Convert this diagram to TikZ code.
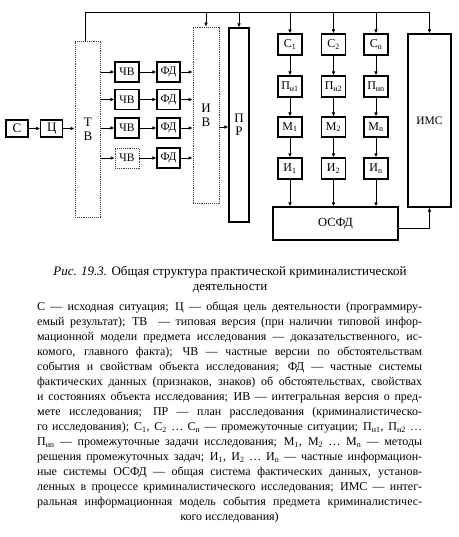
\documentclass[tikz,border=0pt]{standalone}
\usepackage{fontspec}
\setmainfont{Liberation Serif}
\usetikzlibrary{arrows.meta}
\begin{document}
\begin{tikzpicture}[x=1pt,y=-1pt,
  box/.style={draw, line width=1.1pt, inner sep=0pt, align=center, font=\fontsize{12}{12}\selectfont},
  dbox/.style={box, densely dotted, line width=0.8pt, draw=black!75},
  arr/.style={-{Latex[length=4pt,width=3.6pt]}, line width=0.8pt},
  lg/.style={anchor=mid west, inner sep=0pt, font=\fontsize{12}{15}\selectfont},
  captxt/.style={anchor=mid, inner sep=0pt, font=\fontsize{13}{15}\selectfont},
  cv/.style={box, minimum width=24pt, minimum height=20pt, font=\fontsize{11.5}{11.5}\selectfont},
  fd/.style={box, minimum width=23pt, minimum height=20pt, font=\fontsize{11.5}{11.5}\selectfont},
  col/.style={box, minimum width=24pt, minimum height=21pt}
]
\useasboundingbox (0,0) rectangle (458,537);
\fill[white] (0,0) rectangle (458,537);

% left chain
\node[box, minimum width=22pt, minimum height=17pt, font=\fontsize{13}{13}\selectfont] (S) at (17,128.5) {С};
\node[box, minimum width=22pt, minimum height=17pt, font=\fontsize{13}{13}\selectfont] (C) at (51.7,128.5) {Ц};
\node[dbox, minimum width=25.7pt, minimum height=176pt, font=\fontsize{13}{13}\selectfont] (TV) at (87.85,129) {Т\\[1pt]В};
\draw[arr] (S) -- (C);
\draw[arr] (C) -- (C -| TV.west);

% CV and FD rows
\foreach \i/\y in {1/72,2/99.5,3/128} {
  \node[cv] (CV\i) at (127,\y) {ЧВ};
}
\node[cv, densely dotted, line width=0.8pt, draw=black!75] (CV4) at (127,158) {ЧВ};
\foreach \i/\y in {1/72,2/99.5,3/128,4/158} {
  \node[fd] (FD\i) at (168.5,\y) {ФД};
}

\node[dbox, minimum width=26pt, minimum height=176pt, font=\fontsize{13}{13}\selectfont] (IV) at (206,115) {И\\[1pt]В};
\node[box, minimum width=20pt, minimum height=194pt, font=\fontsize{13}{13}\selectfont] (PR) at (239,125) {П\\[0pt]Р};

\foreach \i in {1,2,3,4} {
  \draw[arr] (TV.east |- CV\i.west) -- (CV\i.west);
  \draw[arr] (CV\i) -- (FD\i);
  \draw[arr] (FD\i) -- (FD\i -| IV.west);
}
\coordinate (ivo) at ([yshift=-12pt]IV.east);
\draw[arr] (ivo) -- (ivo -| PR.west);

% columns
\foreach \k/\x/\s in {1/290/1,2/333.5/2,3/376/n} {
  \node[col] (Cs\k) at (\x,44.5) {С\textsubscript{\s}};
  \node[col] (P\k) at (\x,86.5) {П\textsubscript{и\s}};
  \node[col, minimum height=20pt] (M\k) at (\x,127) {М\textsubscript{\s}};
  \node[col] (I\k) at (\x,168.5) {И\textsubscript{\s}};
  \draw[arr] (Cs\k) -- (P\k);
  \draw[arr] (P\k) -- (M\k);
  \draw[arr] (M\k) -- (I\k);
}

\node[box, minimum width=125pt, minimum height=33pt, font=\fontsize{12.5}{12.5}\selectfont] (OSFD) at (335.5,223.5) {ОСФД};
\node[box, minimum width=43pt, minimum height=173pt, font=\fontsize{11.5}{11.5}\selectfont] (IMS) at (429.5,120.5) {ИМС};

\foreach \k in {1,2,3} {
  \draw[arr] (I\k) -- (I\k |- OSFD.north);
}
\draw[arr] ([yshift=-4.5pt]OSFD.east) -| (IMS.south);

% top bus
\coordinate (bus) at (0,12.7);
\draw[arr] ([xshift=-2pt]TV.north) |- (bus -| IMS.north) -- (IMS.north);
\foreach \n in {IV,PR,Cs1,Cs2,Cs3} {
  \draw[arr] (bus -| \n.north) -- (\n.north);
}

% caption
\node[captxt] (cap1) at (230,273) {\textit{Рис. 19.3.} Общая структура практической криминалистической};
\node[captxt] (cap2) at (230,288) {деятельности};

% legend
\def\W{385pt}
\node[lg] (l1) at (37,308) {\makebox[\W][s]{С — исходная ситуация; Ц — общая цель деятельности (программиру-}};
\node[lg] (l2) at (37,323) {\makebox[\W][s]{емый результат); ТВ \ — типовая версия (при наличии типовой инфор-}};
\node[lg] (l3) at (37,338) {\makebox[\W][s]{мационной модели предмета исследования — доказательственного, ис-}};
\node[lg] (l4) at (37,353) {\makebox[\W][s]{комого, главного факта); ЧВ — частные версии по обстоятельствам}};
\node[lg] (l5) at (37,368) {\makebox[\W][s]{события и свойствам объекта исследования; ФД — частные системы}};
\node[lg] (l6) at (37,383) {\makebox[\W][s]{фактических данных (признаков, знаков) об обстоятельствах, свойствах}};
\node[lg] (l7) at (37,398) {\makebox[\W][s]{и состояниях объекта исследования; ИВ — интегральная версия о пред-}};
\node[lg] (l8) at (37,413) {\makebox[\W][s]{мете исследования; ПР — план расследования (криминалистическо-}};
\node[lg] (l9) at (37,428) {\makebox[\W][s]{го исследования); С\textsubscript{1}, С\textsubscript{2} … С\textsubscript{n} — промежуточные ситуации; П\textsubscript{и1}, П\textsubscript{и2} …}};
\node[lg] (l10) at (37,443) {\makebox[\W][s]{П\textsubscript{иn} — промежуточные задачи исследования; М\textsubscript{1}, М\textsubscript{2} … М\textsubscript{n} — методы}};
\node[lg] (l11) at (37,458) {\makebox[\W][s]{решения промежуточных задач; И\textsubscript{1}, И\textsubscript{2} … И\textsubscript{n} — частные информацион-}};
\node[lg] (l12) at (37,473) {\makebox[\W][s]{ные системы ОСФД — общая система фактических данных, установ-}};
\node[lg] (l13) at (37,488) {\makebox[\W][s]{ленных в процессе криминалистического исследования; ИМС — интег-}};
\node[lg] (l14) at (37,503) {\makebox[\W][s]{ральная информационная модель события предмета криминалистичес-}};
\node[captxt, font=\fontsize{12}{15}\selectfont] (l15) at (229.5,518) {кого исследования)};
\end{tikzpicture}
\end{document}
